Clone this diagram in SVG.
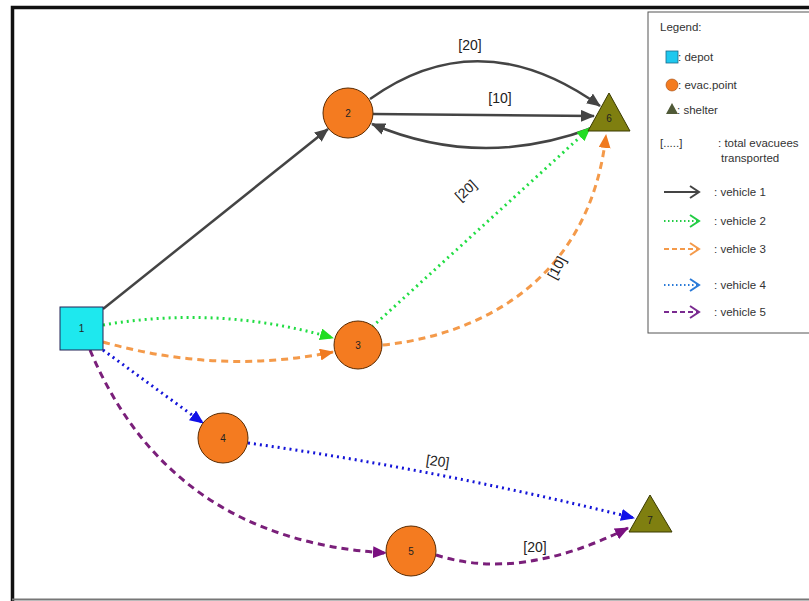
<svg xmlns="http://www.w3.org/2000/svg" width="809" height="601" viewBox="0 0 809 601">
<style>
.lbl{font-family:"Liberation Sans",Arial,sans-serif;font-size:14px;fill:#222;text-anchor:middle}
.nl{font-family:"Liberation Sans",Arial,sans-serif;font-size:10px;fill:#222;text-anchor:middle}
.lg{font-family:"Liberation Sans",Arial,sans-serif;font-size:11.5px;fill:#333}
.evac{fill:#f47b20;stroke:#5a2a00;stroke-width:1}
.shel{fill:#7f7f10;stroke:#3a3a00;stroke-width:1}
.e1{fill:none;stroke:#444;stroke-width:2.5}
.e2{fill:none;stroke:#22dd44;stroke-width:3;stroke-dasharray:2 4}
.e3{fill:none;stroke:#f49a4a;stroke-width:3;stroke-dasharray:7 5}
.e4{fill:none;stroke:#1414d8;stroke-width:3;stroke-dasharray:2 4}
.e5{fill:none;stroke:#7a1f7a;stroke-width:3;stroke-dasharray:7 5}
.la{fill:none;stroke-width:2}
</style>
<defs>
<marker id="m1" markerUnits="userSpaceOnUse" markerWidth="14" markerHeight="12" refX="13" refY="6" orient="auto"><path d="M0,0 L14,6 L0,12 z" fill="#444"/></marker>
<marker id="m2" markerUnits="userSpaceOnUse" markerWidth="14" markerHeight="12" refX="13" refY="6" orient="auto"><path d="M0,0 L14,6 L0,12 z" fill="#22dd22"/></marker>
<marker id="m3" markerUnits="userSpaceOnUse" markerWidth="14" markerHeight="12" refX="13" refY="6" orient="auto"><path d="M0,0 L14,6 L0,12 z" fill="#f07a20"/></marker>
<marker id="m4" markerUnits="userSpaceOnUse" markerWidth="14" markerHeight="12" refX="13" refY="6" orient="auto"><path d="M0,0 L14,6 L0,12 z" fill="#1010e8"/></marker>
<marker id="m5" markerUnits="userSpaceOnUse" markerWidth="14" markerHeight="12" refX="13" refY="6" orient="auto"><path d="M0,0 L14,6 L0,12 z" fill="#7a1080"/></marker>
</defs>
<rect width="809" height="601" fill="#fff"/>
<!-- frame -->
<path d="M12.5,601 L12.5,7.5 L809,7.5" fill="none" stroke="#111" stroke-width="3.5"/>
<line x1="12" y1="599.5" x2="809" y2="599.5" stroke="#777" stroke-width="2"/>

<g id="connectors">
<path class="e1" d="M103,309 L328,129" marker-end="url(#m1)"/>
<path class="e1" d="M370,99 Q480,20 600,106" marker-end="url(#m1)"/>
<path class="e1" d="M373,114 L594,116" marker-end="url(#m1)"/>
<path class="e1" d="M592,128 Q480,170 372,124" marker-end="url(#m1)"/>
<path class="e2" d="M103,325 Q220,305 333,338" marker-end="url(#m2)"/>
<path class="e2" d="M372,327 L590,128" marker-end="url(#m2)"/>
<path class="e3" d="M103,342 Q220,375 333,352" marker-end="url(#m3)"/>
<path class="e3" d="M383,345 C480,335 590,280 606,135" marker-end="url(#m3)"/>
<path class="e4" d="M103,350 L203,423" marker-end="url(#m4)"/>
<path class="e4" d="M248,443 Q440,470 634,518" marker-end="url(#m4)"/>
<path class="e5" d="M90,350 Q170,540 386,553" marker-end="url(#m5)"/>
<path class="e5" d="M436,555 Q520,582 628,528" marker-end="url(#m5)"/>
<text class="lbl" x="470" y="50">[20]</text>
<text class="lbl" x="500" y="103">[10]</text>
<text class="lbl" transform="translate(469,194) rotate(-42)">[20]</text>
<text class="lbl" transform="translate(561,270) rotate(-62)">[10]</text>
<text class="lbl" transform="translate(437,466) rotate(8)">[20]</text>
<text class="lbl" x="535" y="552">[20]</text>
</g>

<g id="node1"><rect x="60" y="307" width="43" height="43" fill="#1ee8ee" stroke="#225" stroke-width="1"/><text class="nl" x="81.5" y="332">1</text></g>
<g id="node2"><circle class="evac" cx="348" cy="113" r="25"/><text class="nl" x="348" y="117">2</text></g>
<g id="node3"><circle class="evac" cx="358" cy="345" r="24"/><text class="nl" x="358" y="349">3</text></g>
<g id="node4"><circle class="evac" cx="223" cy="438" r="25"/><text class="nl" x="223" y="442">4</text></g>
<g id="node5"><circle class="evac" cx="411" cy="551" r="25"/><text class="nl" x="411" y="555">5</text></g>
<g id="node6"><polygon class="shel" points="609,93 588,131 630,131"/><text class="nl" x="609" y="122">6</text></g>
<g id="node7"><polygon class="shel" points="650,495 629,532 672,532"/><text class="nl" x="650" y="524">7</text></g>

<g id="legend">
<rect x="648" y="12" width="170" height="321" fill="#fff" stroke="#555" stroke-width="1"/>
<text class="lg" x="660" y="31">Legend:</text>
<rect x="666" y="51" width="12" height="12" fill="#1ec8ee" stroke="#1a6a8a" stroke-width="0.8"/>
<text class="lg" x="678" y="61">: depot</text>
<circle cx="672" cy="85" r="6" fill="#f47b20" stroke="#a04a10" stroke-width="0.6"/>
<text class="lg" x="678" y="89">: evac.point</text>
<polygon points="672,103 666,114 678,114" fill="#505a38"/>
<text class="lg" x="677" y="114">: shelter</text>
<text class="lg" x="660" y="147" fill="#888">[.....]</text>
<text class="lg" x="718" y="147">: total evacuees</text>
<text class="lg" x="721" y="162">transported</text>
<line class="la" x1="664" y1="192" x2="699" y2="192" stroke="#444"/><polyline class="la" points="690,186 699,192 690,198" stroke="#444"/>
<text class="lg" x="714" y="196">: vehicle 1</text>
<line class="la" x1="664" y1="221" x2="699" y2="221" stroke="#22cc44" stroke-dasharray="1.5 2.5"/><polyline class="la" points="690,215 699,221 690,227" stroke="#22cc44"/>
<text class="lg" x="714" y="225">: vehicle 2</text>
<line class="la" x1="664" y1="249" x2="699" y2="249" stroke="#f49a4a" stroke-dasharray="5 3"/><polyline class="la" points="690,243 699,249 690,255" stroke="#f49a4a"/>
<text class="lg" x="714" y="253">: vehicle 3</text>
<line class="la" x1="664" y1="285" x2="699" y2="285" stroke="#2a7ad8" stroke-dasharray="1.5 2.5"/><polyline class="la" points="690,279 699,285 690,291" stroke="#2a7ad8"/>
<text class="lg" x="714" y="289">: vehicle 4</text>
<line class="la" x1="664" y1="312" x2="699" y2="312" stroke="#7a2a90" stroke-dasharray="5 3"/><polyline class="la" points="690,306 699,312 690,318" stroke="#7a2a90"/>
<text class="lg" x="714" y="316">: vehicle 5</text>
</g>
</svg>
